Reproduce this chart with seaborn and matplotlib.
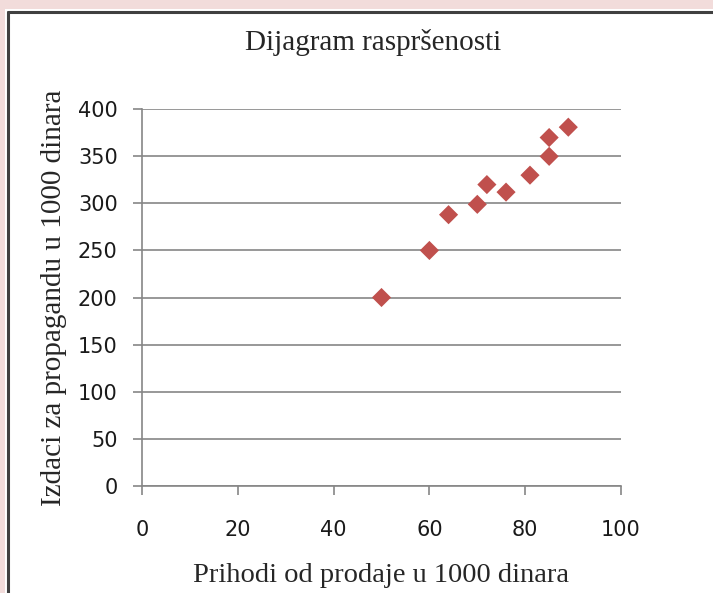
import numpy as np
import pandas as pd
import seaborn as sns
import matplotlib.pyplot as plt
from matplotlib.patches import Rectangle
from matplotlib.lines import Line2D

# podaci (procjena sa slike)
prihodi = [50, 60, 64, 70, 72, 76, 81, 85, 85, 89]
izdaci = [200, 250, 288, 299, 320, 312, 330, 350, 370, 381]
x_ticks = [0, 20, 40, 60, 80, 100]
y_ticks = [0, 50, 100, 150, 200, 250, 300, 350, 400]

df = pd.DataFrame({"prihodi": prihodi, "izdaci": izdaci})

sns.set_style("white")
W, H = 713, 593
fig = plt.figure(figsize=(W / 100, H / 100), dpi=100)
fig.patch.set_facecolor("white")

# okvir slike (ruzicasta pozadina + tamna ivica)
pink = "#f2dcdb"
fig.add_artist(Rectangle((0, 1 - 9 / H), 1, 9 / H, transform=fig.transFigure,
                         facecolor=pink, edgecolor="none"))
fig.add_artist(Rectangle((0, 0), 5 / W, 1, transform=fig.transFigure,
                         facecolor=pink, edgecolor="none"))
fig.add_artist(Line2D([7.5 / W, 1], [1 - 11.5 / H, 1 - 11.5 / H], transform=fig.transFigure,
                      color="#404040", lw=2.2))
fig.add_artist(Line2D([7.5 / W, 7.5 / W], [0, 1 - 11.5 / H], transform=fig.transFigure,
                      color="#404040", lw=2.2))

ax = fig.add_axes([142 / W, 1 - 485.7 / H, (621 - 142) / W, (485.7 - 109.3) / H])

sns.scatterplot(data=df, x="prihodi", y="izdaci", marker="D", s=95,
                color="#c0504d", edgecolor="none", ax=ax, zorder=3)

ax.set_xlim(0, 100)
ax.set_ylim(0, 400)
ax.set_xticks(x_ticks)
ax.set_yticks(y_ticks)
ax.grid(axis="y", color="#868686", lw=1.2)
ax.set_axisbelow(True)
for s in ["top", "right"]:
    ax.spines[s].set_visible(False)
for s in ["left", "bottom"]:
    ax.spines[s].set_color("#868686")
    ax.spines[s].set_linewidth(1.2)
ax.tick_params(axis="both", direction="out", length=6.5, width=1.2, color="#868686",
               labelsize=15, labelcolor="#1a1a1a", bottom=True, left=True)
ax.tick_params(axis="y", pad=11)
ax.tick_params(axis="x", pad=18)

serif = "Liberation Serif"
ax.set_xlabel("Prihodi od prodaje u 1000 dinara", family=serif, fontsize=20.5, labelpad=17)
ax.set_ylabel("Izdaci za propagandu u 1000 dinara", family=serif, fontsize=21, labelpad=8)
fig.text(373 / W, 1 - 43 / H, "Dijagram raspršenosti", family=serif, fontsize=21,
         ha="center", va="center")

fig.savefig("out.png", dpi=100)
